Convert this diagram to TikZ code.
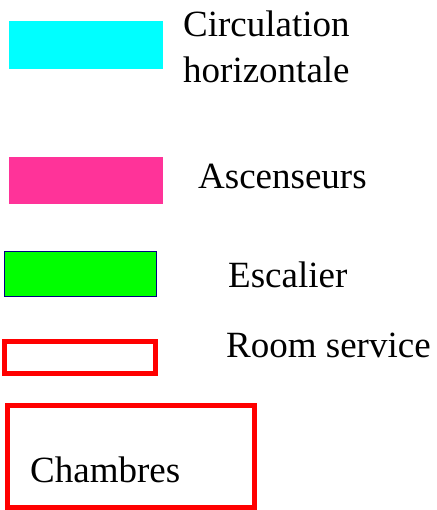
\documentclass[tikz,border=0pt]{standalone}
\usepackage{fontspec}
\setmainfont{Liberation Serif}
\usetikzlibrary{positioning}

\begin{document}
\begin{tikzpicture}[
    x=1pt, y=-1pt,
    every node/.style={font=\fontsize{37}{44}\selectfont, inner sep=0pt, anchor=base west},
]

\definecolor{circcolor}{HTML}{00FFFF}
\definecolor{liftcolor}{HTML}{FF3399}
\definecolor{stairfill}{HTML}{00FF00}
\definecolor{stairline}{HTML}{000080}
\definecolor{roomcolor}{HTML}{FF0000}

\useasboundingbox (0,0) rectangle (436,510);

% ---------------------------------------------------------------- swatches
\fill[circcolor] (9,21) rectangle (163,69);
\fill[liftcolor] (9,157) rectangle (163,204);
\draw[stairline, fill=stairfill, line width=1.5pt] (4.5,251.5) rectangle (156.5,296.5);
\draw[roomcolor, line width=4.5pt] (4.5,341.5) rectangle (155.5,373.5);
\draw[roomcolor, line width=5pt] (7.5,405.5) rectangle (254.5,507);

% ---------------------------------------------------------------- labels
\node (circ) at (183,37) {Circulation};
\node (circb) at (183,83) {horizontale};
\node (lift) at (198,189) {Ascenseurs};
\node (stair) at (228,287) {Escalier};
\node (service) at (226,357) {Room service};
\node (rooms) at (30,482) {Chambres};

\end{tikzpicture}
\end{document}
